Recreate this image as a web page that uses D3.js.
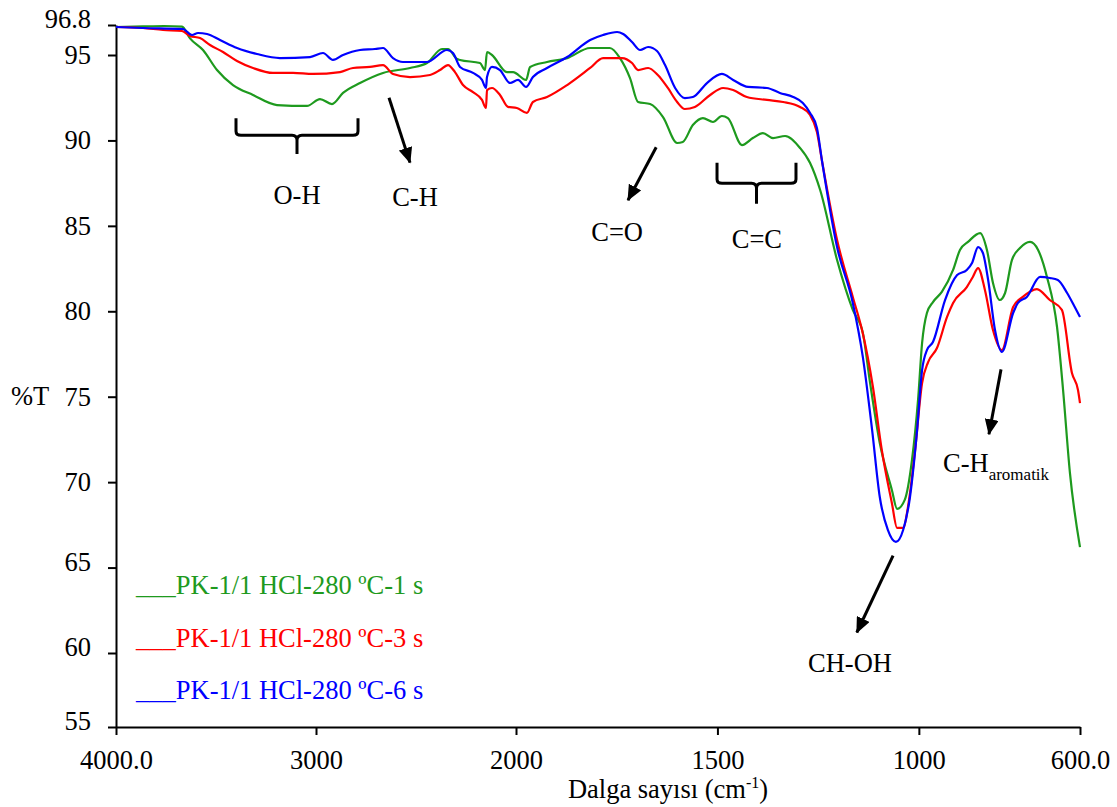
<!DOCTYPE html>
<html>
<head>
<meta charset="utf-8">
<script src="https://cdn.jsdelivr.net/npm/d3@7"></script>
<style>
  body { margin: 0; background: #fff; }
  text { font-family: "Liberation Serif", "Times New Roman", serif; }
</style>
</head>
<body>
<svg id="chart" width="1117" height="807"></svg>
<script>
// FTIR spectra, [wavenumber cm-1, %T]
var spec1s = [[4000,96.68],[3865,96.72],[3760,96.74],[3670,96.70],[3630,96.0],[3565,95.3],[3495,94.12],[3415,93.24],[3315,92.66],[3195,92.07],[3045,92.02],[2980,92.42],[2920,92.13],[2865,92.78],[2780,93.36],[2665,93.95],[2530,94.24],[2445,94.53],[2370,95.36],[2340,95.36],[2295,94.77],[2280,94.71],[2180,94.53],[2155,94.12],[2145,95.18],[2120,95.0],[2045,94.0],[2015,94.0],[1975,93.54],[1965,94.30],[1923,94.59],[1873,94.82],[1816,95.42],[1767,95.42],[1742,94.82],[1717,93.65],[1697,92.25],[1667,92.13],[1635,91.37],[1600,89.85],[1586,89.91],[1561,90.90],[1536,91.31],[1511,91.08],[1489,91.43],[1474,91.31],[1439,89.73],[1412,90.14],[1387,90.43],[1362,90.14],[1332,90.26],[1295,89.56],[1270,88.68],[1245,87.10],[1203,83.0],[1164,80.08],[1139,78.73],[1121,75.80],[1097,72.29],[1067,69.54],[1054,68.43],[1035,68.96],[1017,71.30],[1002,74.81],[992,78.14],[980,79.90],[965,80.54],[943,81.13],[915,82.42],[898,83.59],[878,84.06],[848,84.58],[831,83.59],[816,81.66],[799,80.66],[786,81.07],[769,83.0],[749,83.70],[724,84.06],[704,83.59],[682,82.01],[657,79.08],[642,75.39],[625,70.54],[600,66.20]];

var spec3s = [[4000,96.68],[3865,96.62],[3765,96.5],[3670,96.44],[3630,96.14],[3580,96.02],[3530,95.6],[3465,95.18],[3395,94.65],[3315,94.24],[3215,93.95],[3115,93.95],[3015,93.89],[2880,94.0],[2815,94.24],[2730,94.30],[2665,94.41],[2615,93.89],[2530,93.71],[2430,93.83],[2380,94.12],[2340,94.41],[2305,94.0],[2265,93.24],[2215,92.83],[2170,92.37],[2150,91.90],[2145,92.95],[2120,93.07],[2080,92.66],[2040,91.96],[1998,91.90],[1973,91.61],[1958,92.25],[1923,92.54],[1873,93.24],[1816,94.24],[1784,94.82],[1759,94.82],[1737,94.82],[1712,94.53],[1697,94.12],[1672,94.24],[1648,93.83],[1623,93.07],[1600,92.25],[1581,91.84],[1556,91.96],[1518,92.66],[1486,93.07],[1461,92.95],[1427,92.54],[1377,92.37],[1337,92.25],[1295,91.96],[1270,91.49],[1253,90.49],[1240,88.74],[1203,84.17],[1164,80.84],[1141,78.90],[1114,75.57],[1092,71.88],[1067,68.78],[1054,67.32],[1039,67.32],[1027,68.55],[1010,71.71],[992,75.80],[977,77.03],[955,77.85],[930,79.67],[915,80.49],[881,81.42],[866,82.01],[853,82.53],[836,81.25],[816,78.90],[794,77.73],[766,80.25],[742,80.84],[707,81.30],[675,80.66],[645,80.08],[620,76.39],[605,75.39],[600,74.63]];

var spec6s = [[4000,96.68],[3865,96.62],[3665,96.56],[3620,96.2],[3590,96.32],[3545,96.26],[3480,95.9],[3395,95.42],[3295,95.06],[3180,94.82],[3030,94.88],[2965,95.12],[2915,94.71],[2865,95.0],[2780,95.3],[2705,95.36],[2665,95.42],[2615,94.82],[2565,94.59],[2445,94.59],[2345,95.3],[2315,95.12],[2280,94.30],[2215,93.95],[2170,93.54],[2150,93.07],[2145,93.71],[2120,94.30],[2080,94.12],[2030,93.36],[1995,93.54],[1975,93.13],[1958,93.71],[1923,94.24],[1873,94.88],[1816,95.9],[1784,96.2],[1749,96.38],[1734,96.26],[1712,95.78],[1692,95.3],[1672,95.48],[1650,95.24],[1630,94.41],[1605,93.07],[1581,92.48],[1561,92.54],[1526,93.36],[1489,93.89],[1461,93.54],[1424,93.13],[1377,93.07],[1345,92.78],[1312,92.54],[1288,92.19],[1270,91.61],[1253,90.73],[1240,88.74],[1203,83.76],[1164,80.49],[1139,77.32],[1116,73.05],[1097,69.13],[1077,67.20],[1057,66.50],[1039,67.20],[1022,69.13],[1005,72.88],[992,76.56],[980,77.73],[965,78.20],[935,80.66],[905,82.12],[881,82.42],[868,82.83],[853,83.76],[841,83.41],[828,81.83],[811,78.90],[794,77.62],[766,79.90],[754,80.49],[732,80.84],[699,82.01],[675,81.95],[655,81.83],[632,81.07],[613,80.25],[600,79.67]];

var seriesNames = ["___PK-1/1 HCl-280 \u00baC-1 s", "___PK-1/1 HCl-280 \u00baC-3 s", "___PK-1/1 HCl-280 \u00baC-6 s"];
var seriesData = [spec1s, spec3s, spec6s];
var seriesColors = ["#1e9a1e", "#ff0000", "#0000ff"];

var xTicks = [4000, 3000, 2000, 1500, 1000, 600];
var xTickLabels = ["4000.0", "3000", "2000", "1500", "1000", "600.0"];
var yTicks = [96.8, 95, 90, 85, 80, 75, 70, 65, 60, 55];

// band annotations (data coordinates)
var braces = [
  {x1: 3400, x2: 2790, top: 91.3, bar: 90.3, stem: 89.2, label: "O-H", lx: 3095, ly: 86.3},
  {x1: 1501, x2: 1305, top: 88.7, bar: 87.5, stem: 86.3, label: "C=C", lx: 1402, ly: 83.7}
];
var arrows = [
  {from: [2635, 92.5], to: [2530, 88.7], label: "C-H", lx: 2505, ly: 86.15},
  {from: [1652, 89.6], to: [1722, 86.5], label: "C=O", lx: 1749, ly: 84.1},
  {from: [1064, 65.7], to: [1154, 61.2], label: "CH-OH", lx: 1171, ly: 58.7}
];
var aromArrow = {from: [796, 76.6], to: [826, 72.8], lx: 940, ly: 70.6};

var FS = "26.5px";
var svg = d3.select("#chart");

// the spectrum axis is expanded below 2000 cm-1, and the %T axis is not uniform at its ends
var x = d3.scaleLinear().domain([4000, 2000, 600]).range([116, 516, 1080]);
var y = d3.scaleLinear().domain([55, 60, 95, 96.8]).range([727, 653, 55, 25]);

var xAxis = d3.axisBottom(x).tickValues(xTicks)
  .tickFormat(function(d, i) { return xTickLabels[i]; })
  .tickSizeInner(8).tickSizeOuter(0).tickPadding(15);
var yAxis = d3.axisLeft(y).tickValues(yTicks)
  .tickFormat(function(d) { return d; })
  .tickSizeInner(8).tickSizeOuter(0).tickPadding(17);

var gx = svg.append("g").attr("transform", "translate(0,727)").call(xAxis);
var gy = svg.append("g").attr("transform", "translate(116,0)").call(yAxis);

[gx, gy].forEach(function(g) {
  g.select(".domain").attr("stroke", "#000").attr("stroke-width", 2);
  g.selectAll(".tick line").attr("stroke", "#000").attr("stroke-width", 2);
  g.selectAll(".tick text").attr("fill", "#000")
    .style("font-family", "'Liberation Serif', 'Times New Roman', serif")
    .style("font-size", FS);
});
gy.selectAll(".tick text").attr("dy", function(d) { return (d === 96.8 || d <= 65) ? "0.1em" : "0.32em"; });

// spectra
var line = d3.line()
  .x(function(d) { return x(d[0]); })
  .y(function(d) { return y(d[1]); })
  .curve(d3.curveMonotoneX);

seriesData.forEach(function(data, i) {
  svg.append("path")
    .datum(data)
    .attr("fill", "none")
    .attr("stroke", seriesColors[i])
    .attr("stroke-width", 2.2)
    .attr("stroke-linejoin", "round")
    .attr("d", line);
});

// legend
seriesNames.forEach(function(name, i) {
  svg.append("text")
    .attr("x", 136)
    .attr("y", 594 + i * 52.5)
    .attr("fill", seriesColors[i])
    .style("font-size", FS)
    .text(name);
});

// annotations
svg.append("defs").append("marker")
  .attr("id", "head")
  .attr("viewBox", "0 0 16 14")
  .attr("refX", 15).attr("refY", 7)
  .attr("markerWidth", 16).attr("markerHeight", 14)
  .attr("markerUnits", "userSpaceOnUse")
  .attr("orient", "auto")
  .append("path").attr("d", "M0,0 L16,7 L0,14 Z").attr("fill", "#000");

braces.forEach(function(b) {
  var xl = x(b.x1), xr = x(b.x2), xm = (xl + xr) / 2;
  var yt = y(b.top), yb = y(b.bar), ys = y(b.stem);
  var p = "M" + xl + "," + yt + " L" + xl + "," + (yb - 4) + " Q" + xl + "," + yb + " " + (xl + 5) + "," + yb +
    " L" + (xm - 5) + "," + yb + " Q" + xm + "," + yb + " " + xm + "," + (yb + 5) + " L" + xm + "," + ys +
    " M" + xm + "," + (yb + 5) + " Q" + xm + "," + yb + " " + (xm + 5) + "," + yb +
    " L" + (xr - 5) + "," + yb + " Q" + xr + "," + yb + " " + xr + "," + (yb - 4) + " L" + xr + "," + yt;
  svg.append("path").attr("d", p).attr("fill", "none").attr("stroke", "#000").attr("stroke-width", 3);
  svg.append("text").attr("x", x(b.lx)).attr("y", y(b.ly))
    .attr("text-anchor", "middle").style("font-size", FS).text(b.label);
});

arrows.concat([aromArrow]).forEach(function(a) {
  svg.append("line")
    .attr("x1", x(a.from[0])).attr("y1", y(a.from[1]))
    .attr("x2", x(a.to[0])).attr("y2", y(a.to[1]))
    .attr("stroke", "#000").attr("stroke-width", 3)
    .attr("marker-end", "url(#head)");
});
arrows.forEach(function(a) {
  svg.append("text").attr("x", x(a.lx)).attr("y", y(a.ly))
    .attr("text-anchor", "middle").style("font-size", FS).text(a.label);
});

var arom = svg.append("text").attr("x", x(aromArrow.lx)).attr("y", y(aromArrow.ly)).style("font-size", FS);
arom.append("tspan").text("C-H");
arom.append("tspan").attr("dy", 8).style("font-size", "17px").text("aromatik");

// axis titles
var xt = svg.append("text").attr("x", 668).attr("y", 798).attr("text-anchor", "middle").style("font-size", FS);
xt.append("tspan").text("Dalga say\u0131s\u0131 (cm");
xt.append("tspan").attr("dy", -10).style("font-size", "16px").text("-1");
xt.append("tspan").attr("dy", 10).text(")");

svg.append("text").attr("x", 11).attr("y", 405).style("font-size", FS).text("%T");
</script>
</body>
</html>
